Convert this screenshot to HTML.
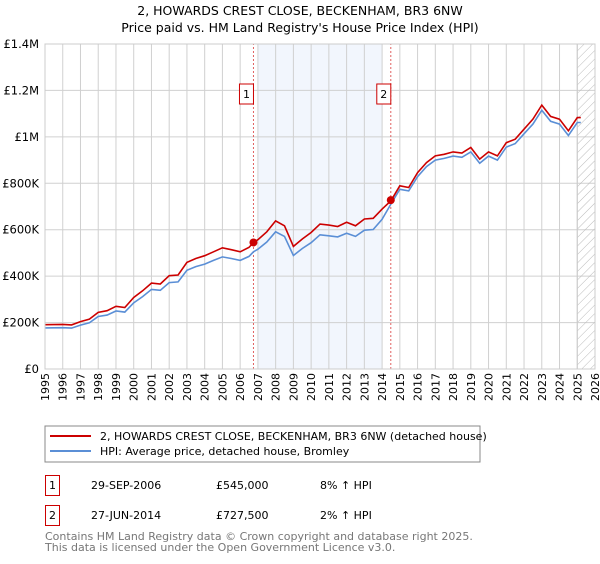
<!DOCTYPE html>
<html><head><meta charset="utf-8"><style>
body{margin:0;background:#fff;font-family:"DejaVu Sans","Liberation Sans",sans-serif;}
svg text{font-family:"DejaVu Sans","Liberation Sans",sans-serif;}
</style></head><body>
<svg width="600" height="560" xmlns="http://www.w3.org/2000/svg">
<defs><pattern id="hatch" width="6" height="6" patternUnits="userSpaceOnUse" patternTransform="rotate(45)"><line x1="0" y1="0" x2="0" y2="6" stroke="#bbb" stroke-width="1"/></pattern></defs>
<text x="300" y="15" text-anchor="middle" font-size="12.5">2, HOWARDS CREST CLOSE, BECKENHAM, BR3 6NW</text>
<text x="300" y="32" text-anchor="middle" font-size="12.5">Price paid vs. HM Land Registry's House Price Index (HPI)</text>
<g id="plot"></g>
<rect x="45" y="426" width="435" height="36" fill="#fff" stroke="#888"/>
<line x1="50" y1="436" x2="91" y2="436" stroke="#cc0000" stroke-width="2"/>
<text x="100" y="440" font-size="11">2, HOWARDS CREST CLOSE, BECKENHAM, BR3 6NW (detached house)</text>
<line x1="50" y1="451" x2="91" y2="451" stroke="#5b8fd6" stroke-width="2"/>
<text x="100" y="455" font-size="11">HPI: Average price, detached house, Bromley</text>
<g>
<rect x="45.5" y="475.5" width="14" height="20" fill="#fff" stroke="#cc0000"/>
<text x="52.5" y="489" text-anchor="middle" font-size="11">1</text>
<text x="91" y="489" font-size="11">29-SEP-2006</text>
<text x="216" y="489" font-size="11">£545,000</text>
<text x="320" y="489" font-size="11">8% ↑ HPI</text></g>
<g>
<rect x="45.5" y="505.5" width="14" height="20" fill="#fff" stroke="#cc0000"/>
<text x="52.5" y="519" text-anchor="middle" font-size="11">2</text>
<text x="91" y="519" font-size="11">27-JUN-2014</text>
<text x="216" y="519" font-size="11">£727,500</text>
<text x="320" y="519" font-size="11">2% ↑ HPI</text></g>
<text x="45" y="540" font-size="11" fill="#777">Contains HM Land Registry data © Crown copyright and database right 2025.</text>
<text x="45" y="551" font-size="11" fill="#777">This data is licensed under the Open Government Licence v3.0.</text>
</svg>
<script>
const years=[1995,1996,1996.5,1997,1997.5,1998,1998.5,1999,1999.5,2000,2000.5,2001,2001.5,2002,2002.5,2003,2003.5,2004,2004.5,2005,2005.5,2006,2006.5,2006.75,2007,2007.5,2008,2008.5,2009,2009.5,2010,2010.5,2011,2011.5,2012,2012.5,2013,2013.5,2014,2014.5,2015,2015.5,2016,2016.5,2017,2017.5,2018,2018.5,2019,2019.5,2020,2020.5,2021,2021.5,2022,2022.5,2023,2023.5,2024,2024.5,2025,2025.2];
const priceSeries=[0.191,0.192,0.19,0.204,0.215,0.244,0.251,0.27,0.265,0.308,0.337,0.37,0.366,0.402,0.405,0.459,0.476,0.488,0.505,0.522,0.514,0.505,0.524,0.545,0.557,0.591,0.638,0.617,0.528,0.56,0.588,0.624,0.62,0.614,0.632,0.617,0.646,0.649,0.689,0.725,0.789,0.782,0.846,0.889,0.918,0.925,0.935,0.93,0.954,0.904,0.935,0.918,0.975,0.99,1.033,1.076,1.137,1.088,1.076,1.026,1.083,1.083];
const hpiSeries=[0.177,0.178,0.176,0.189,0.199,0.226,0.232,0.25,0.245,0.285,0.312,0.343,0.339,0.372,0.375,0.425,0.441,0.452,0.468,0.483,0.476,0.468,0.485,0.505,0.516,0.547,0.591,0.571,0.489,0.519,0.544,0.578,0.574,0.569,0.585,0.571,0.598,0.601,0.645,0.711,0.774,0.767,0.829,0.872,0.9,0.907,0.917,0.912,0.935,0.886,0.917,0.9,0.956,0.971,1.013,1.055,1.115,1.067,1.055,1.006,1.062,1.062];
const yTicks=[0,0.2,0.4,0.6,0.8,1.0,1.2,1.4];
const yTickLabels=["£0","£200K","£400K","£600K","£800K","£1M","£1.2M","£1.4M"];
const xTickYears=[1995,1996,1997,1998,1999,2000,2001,2002,2003,2004,2005,2006,2007,2008,2009,2010,2011,2012,2013,2014,2015,2016,2017,2018,2019,2020,2021,2022,2023,2024,2025,2026];
const saleYears=[2006.75,2014.49];
const salePrices=[0.545,0.7275];
const saleLabels=["1","2"];
const shadeRange=[2007,2014];
const futureStart=2025;
const X=y=>45+(y-1995)*(550/31);
const Y=v=>369-v*(325/1.4);
const NS="http://www.w3.org/2000/svg";
const g=document.getElementById('plot');
function mk(t,a,p){const e=document.createElementNS(NS,t);for(const k in a)e.setAttribute(k,a[k]);(p||g).appendChild(e);return e;}
const sh=mk('rect',{x:X(shadeRange[0]),y:Y(1.4),width:X(shadeRange[1])-X(shadeRange[0]),height:Y(0)-Y(1.4),fill:'#f2f6fd'});


xTickYears.forEach(yr=>{
const l=mk('line',{x1:X(yr),x2:X(yr),y1:Y(0),y2:Y(1.4),stroke:'#d0d0d0'});


const t=mk('text',{x:0,y:0,'font-size':11,'text-anchor':'end',transform:`translate(${X(yr)+4},373) rotate(-90)`});
t.textContent=yr;


});
yTicks.forEach((v,i)=>{
const l=mk('line',{x1:X(1995),x2:X(2026),y1:Y(v),y2:Y(v),stroke:'#d0d0d0'});


const t=mk('text',{x:39,y:Y(v)+4,'font-size':11.5,'text-anchor':'end'});
t.textContent=yTickLabels[i];


});
const fr=mk('rect',{x:X(futureStart),y:Y(1.4),width:X(2026)-X(futureStart),height:Y(0)-Y(1.4),fill:'url(#hatch)',stroke:'#ccc'});


saleYears.forEach((s,i)=>{
const l=mk('line',{x1:X(s),x2:X(s),y1:Y(0),y2:Y(1.4),stroke:'#e06060','stroke-dasharray':'2,2'});


});
function path(vals,col,name){
const d=years.map((yr,i)=>(i?'L':'M')+X(yr).toFixed(1)+','+Y(vals[i]).toFixed(1)).join('');
const p=mk('path',{d:d,fill:'none',stroke:col,'stroke-width':1.6});


}
path(hpiSeries,'#5b8fd6','hpi-line');
path(priceSeries,'#cc0000','price-line');
saleYears.forEach((s,i)=>{
const c=mk('circle',{cx:X(s),cy:Y(salePrices[i]),r:4,fill:'#cc0000'});


const b=mk('rect',{x:X(s)-14,y:84,width:14,height:20,fill:'#fff',stroke:'#cc0000'});


const t=mk('text',{x:X(s)-7,y:98,'font-size':11,'text-anchor':'middle'});
t.textContent=saleLabels[i];


});
const ax=mk('rect',{x:X(1995),y:Y(1.4),width:X(2026)-X(1995),height:Y(0)-Y(1.4),fill:'none',stroke:'#ccc'});


</script>
</body></html>
